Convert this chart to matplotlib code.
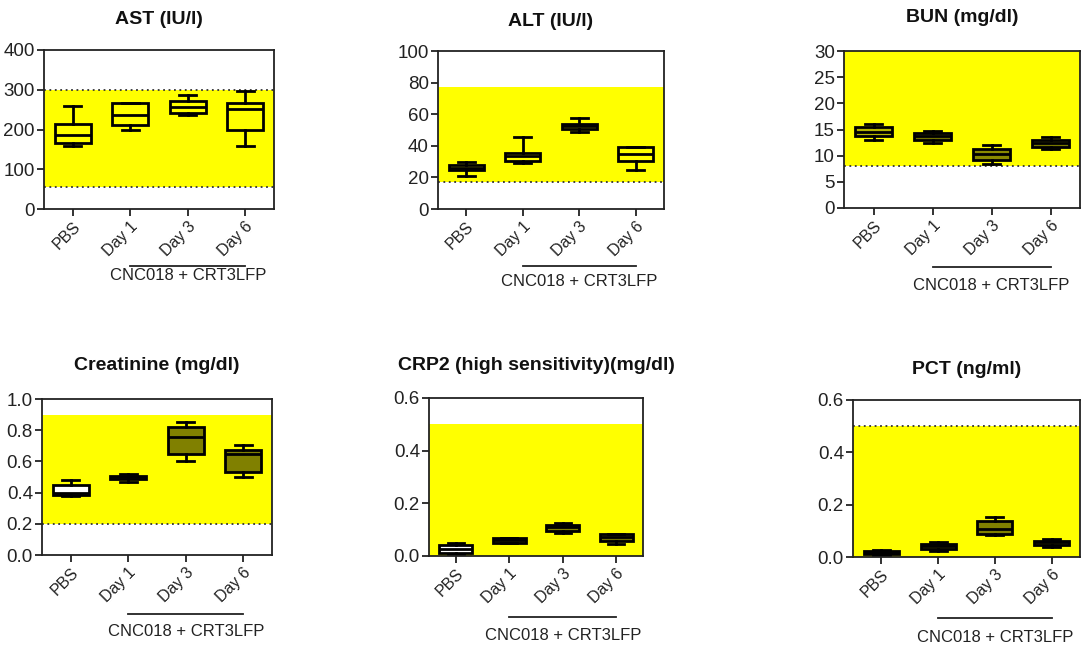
import matplotlib
matplotlib.use("Agg")
import matplotlib.pyplot as plt

plt.rcParams['font.family'] = ['Liberation Sans', 'DejaVu Sans']

W, H = 1083, 649
groups = ["PBS", "Day 1", "Day 3", "Day 6"]
treatment_label = "CNC018 + CRT3LFP"

# ---- data: lo whisker, Q1, median, Q3, hi whisker ----
ast_lo = [159, 199, 237, 158]
ast_q1 = [165, 212, 242, 200]
ast_med = [185, 237, 256, 251]
ast_q3 = [213, 266, 272, 266]
ast_hi = [259, 266, 287, 296]

alt_lo = [21.0, 28.8, 48.8, 25.0]
alt_q1 = [24.6, 30.5, 50.7, 30.3]
alt_med = [26.1, 33.5, 52.6, 34.9]
alt_q3 = [27.8, 35.2, 54.1, 39.4]
alt_hi = [29.9, 45.3, 57.9, 39.4]

bun_lo = [13.0, 12.5, 8.4, 11.2]
bun_q1 = [13.8, 13.0, 9.1, 11.7]
bun_med = [14.5, 13.8, 10.3, 12.4]
bun_q3 = [15.4, 14.3, 11.35, 12.9]
bun_hi = [16.0, 14.7, 12.0, 13.5]

cre_lo = [0.379, 0.467, 0.600, 0.503]
cre_q1 = [0.387, 0.486, 0.649, 0.535]
cre_med = [0.396, 0.497, 0.754, 0.650]
cre_q3 = [0.450, 0.505, 0.820, 0.672]
cre_hi = [0.482, 0.520, 0.854, 0.702]

crp_lo = [0.006, 0.048, 0.089, 0.046]
crp_q1 = [0.013, 0.051, 0.096, 0.057]
crp_med = [0.025, 0.061, 0.109, 0.072]
crp_q3 = [0.042, 0.070, 0.118, 0.084]
crp_hi = [0.051, 0.070, 0.127, 0.084]

pct_lo = [0.009, 0.023, 0.084, 0.038]
pct_q1 = [0.013, 0.032, 0.089, 0.047]
pct_med = [0.019, 0.043, 0.107, 0.057]
pct_q3 = [0.024, 0.051, 0.136, 0.063]
pct_hi = [0.027, 0.058, 0.153, 0.069]

titles = ["AST (IU/l)", "ALT (IU/l)", "BUN (mg/dl)",
          "Creatinine (mg/dl)", "CRP2 (high sensitivity)(mg/dl)", "PCT (ng/ml)"]
ylims = [(0, 400), (0, 100), (0, 30), (0, 1.0), (0, 0.6), (0, 0.6)]
yticks = [[0, 100, 200, 300, 400], [0, 20, 40, 60, 80, 100],
          [0, 5, 10, 15, 20, 25, 30], [0.0, 0.2, 0.4, 0.6, 0.8, 1.0],
          [0.0, 0.2, 0.4, 0.6], [0.0, 0.2, 0.4, 0.6]]
ytick_fmt = ["{:.0f}", "{:.0f}", "{:.0f}", "{:.1f}", "{:.1f}", "{:.1f}"]
ref_lo = [55, 17, 8, 0.2, 0.0, 0.0]
ref_hi = [300, 77, 30, 0.9, 0.5, 0.5]
dotted = [[55, 300], [17], [8], [0.2], [], [0.5]]

data = [(ast_lo, ast_q1, ast_med, ast_q3, ast_hi),
        (alt_lo, alt_q1, alt_med, alt_q3, alt_hi),
        (bun_lo, bun_q1, bun_med, bun_q3, bun_hi),
        (cre_lo, cre_q1, cre_med, cre_q3, cre_hi),
        (crp_lo, crp_q1, crp_med, crp_q3, crp_hi),
        (pct_lo, pct_q1, pct_med, pct_q3, pct_hi)]

fills = [["none"] * 4,
         ["none"] * 4,
         ["#b4b400", "#707000", "#8a8a00", "#787800"],
         ["white", "none", "#808000", "#808000"],
         ["white", "#6b6b00", "#808000", "#707000"],
         ["#505000", "#808000", "#808000", "#606000"]]

# axes boxes in pixels: left, right, top, bottom
boxes = [(44, 274, 50, 209), (438, 664, 51, 209), (844, 1080, 51, 208),
         (42, 272, 399, 555), (429, 643, 398, 556), (853, 1080, 400, 557)]
title_y = [20, 21, 18, 366, 366, 370]
line_y = [266, 266, 267, 614, 617, 618]
text_y = [276, 281, 285, 632, 635, 637]

fig = plt.figure(figsize=(W / 100, H / 100), dpi=100)

for i in range(6):
    l, r, t, b = boxes[i]
    ax = fig.add_axes([l / W, 1 - b / H, (r - l) / W, (b - t) / H])
    ax.set_xlim(-0.5, 3.5)
    ax.set_ylim(*ylims[i])
    ax.axhspan(ref_lo[i], ref_hi[i], color="#ffff00", zorder=0, lw=0)
    for yv in dotted[i]:
        ax.axhline(yv, color="#333333", lw=1.3, ls=(0, (1, 2)), zorder=1)
    lo, q1, med, q3, hi = data[i]
    stats = [dict(med=med[k], q1=q1[k], q3=q3[k], whislo=lo[k], whishi=hi[k], label=groups[k])
             for k in range(4)]
    bp = ax.bxp(stats, positions=range(4), widths=0.62, showfliers=False, patch_artist=True,
                boxprops=dict(lw=2.0, edgecolor="black"),
                medianprops=dict(color="black", lw=2.0),
                whiskerprops=dict(color="black", lw=2.0),
                capprops=dict(color="black", lw=2.0), capwidths=0.3)
    for patch, fc in zip(bp["boxes"], fills[i]):
        patch.set_facecolor(fc)
    for sp in ["top", "right", "left", "bottom"]:
        ax.spines[sp].set_linewidth(1.3)
        ax.spines[sp].set_color("#222222")
    ax.set_yticks(yticks[i])
    ax.set_yticklabels([ytick_fmt[i].format(v) for v in yticks[i]], fontsize=13.5, color="#222222")
    ax.set_xticks(range(4))
    ax.set_xticklabels(groups, rotation=45, ha="right", rotation_mode="anchor",
                       fontsize=11.5, color="#222222")
    ax.tick_params(axis="both", direction="out", length=5, width=1.3, color="#222222")
    ax.tick_params(axis="y", pad=1.5)
    ax.tick_params(axis="x", pad=2)
    # title
    ty = (b - title_y[i]) / (b - t)
    ax.text(0.5, ty, titles[i], transform=ax.transAxes, ha="center", va="center",
            fontsize=14, fontweight="bold", color="#111111")
    # bracket line & treatment label
    ly = (b - line_y[i]) / (b - t)
    tr = ax.get_xaxis_transform()
    ax.plot([1, 3], [ly, ly], transform=tr, color="#222222", lw=1.3, clip_on=False)
    txy = (b - text_y[i]) / (b - t)
    ax.text(2, txy, treatment_label, transform=tr, ha="center", va="center",
            fontsize=12, color="#222222")

fig.savefig("out.png", dpi=100)
